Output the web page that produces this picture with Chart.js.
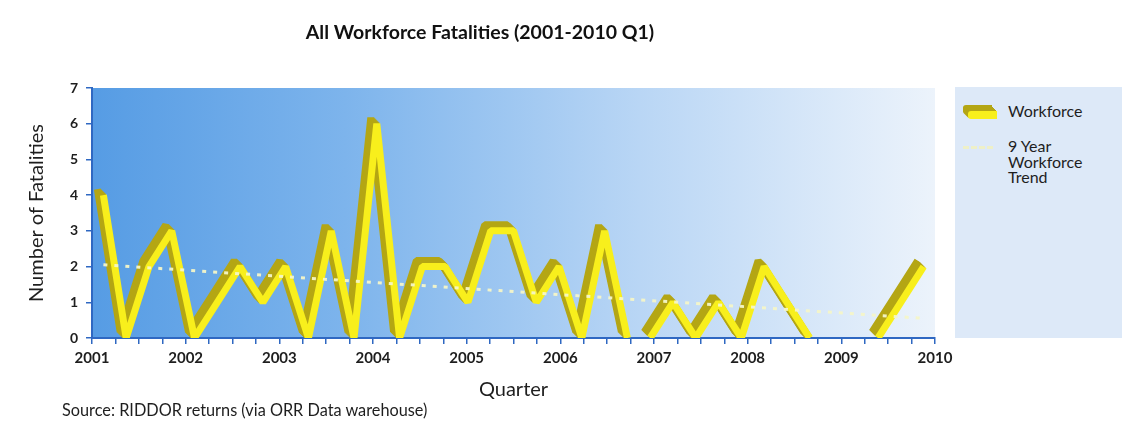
<!DOCTYPE html>
<html>
<head>
<meta charset="utf-8">
<title>All Workforce Fatalities (2001-2010 Q1)</title>
<script src="https://cdn.jsdelivr.net/npm/chart.js@4.4.3/dist/chart.umd.min.js"></script>
<style>
  body { margin:0; background:#fff; font-family:Lato, "Open Sans", sans-serif; color:#1e1e1e; }
  #wrap { position:relative; width:1132px; height:426px; }
  #legend { position:absolute; left:955px; top:87px; width:167px; height:251px; background:#dde9f8; }
  .sw-work { position:absolute; left:968px; top:111px; width:29px; height:8px; background:#f8ef1c;
    border-radius:3px 0 0 3px;
    box-shadow:-1px -1px 0 #b4a614,-2px -2px 0 #b4a614,-3px -3px 0 #b4a614,-4px -4px 0 #b4a614,-5px -5px 0 #b4a614,-5px -6px 0 #b4a614; }
  .sw-trend { position:absolute; left:963px; top:146px; width:30px; border-top:3px dashed #eef0c8; }
  .lg { position:absolute; left:1008px; font-size:16px; line-height:15.5px; }
  #source { position:absolute; left:62px; top:400px; font-size:16.3px; }
</style>
</head>
<body>
<div id="wrap">
  <canvas id="c" width="1132" height="426"></canvas>
  <div id="legend"></div>
  <div class="sw-work"></div>
  <div class="lg" style="top:103px">Workforce</div>
  <div class="sw-trend"></div>
  <div class="lg" style="top:138px">9 Year<br>Workforce<br>Trend</div>
  <div id="source">Source: RIDDOR returns (via ORR Data warehouse)</div>
</div>
<script>
// quarterly fatality counts, 2001 Q1 .. 2010 Q1
const quarters = [
  '2001 Q1','2001 Q2','2001 Q3','2001 Q4','2002 Q1','2002 Q2','2002 Q3','2002 Q4',
  '2003 Q1','2003 Q2','2003 Q3','2003 Q4','2004 Q1','2004 Q2','2004 Q3','2004 Q4',
  '2005 Q1','2005 Q2','2005 Q3','2005 Q4','2006 Q1','2006 Q2','2006 Q3','2006 Q4',
  '2007 Q1','2007 Q2','2007 Q3','2007 Q4','2008 Q1','2008 Q2','2008 Q3','2008 Q4',
  '2009 Q1','2009 Q2','2009 Q3','2009 Q4','2010 Q1'
];
const workforce = [
  4,0,2,3, 0,1,2,1, 2,0,3,0, 6,0,2,2, 1,3,3,1,
  2,0,3,0, 0,1,0,1, 0,2,1,0, 0,0,0,1, 2
];
// 9 year trend, start and end value
const trendStart = 2.05;
const trendEnd = 0.55;
const yearTicks = [2001,2002,2003,2004,2005,2006,2007,2008,2009,2010];
const yTicks = [0,1,2,3,4,5,6,7];

const YELLOW = '#f8ef1c', OLIVE = '#b4a614', AXIS = '#2f68c2';
const DEPTH = 6;

Chart.defaults.font.family = 'Lato, "Open Sans", sans-serif';
Chart.defaults.color = '#1e1e1e';

// hide the stretches that run along the zero line
const hideZeroRun = ctx => (ctx.p0.parsed.y === 0 && ctx.p1.parsed.y === 0) ? 'rgba(0,0,0,0)' : undefined;

// blue gradient behind the plot
const plotBg = {
  id: 'plotBg',
  beforeDraw(chart) {
    const { ctx, chartArea: a } = chart;
    const g = ctx.createLinearGradient(a.left, 0, a.right, 0);
    g.addColorStop(0, '#569ce4');
    g.addColorStop(0.3, '#7db4ec');
    g.addColorStop(0.65, '#b9d6f5');
    g.addColorStop(1, '#ecf3fb');
    ctx.save();
    ctx.fillStyle = g;
    ctx.fillRect(a.left, a.top, a.width, a.height);
    ctx.restore();
  }
};

// side face of the ribbon: the same line swept up-left a few pixels
const ribbon = {
  id: 'ribbon',
  beforeDatasetDraw(chart, args) {
    if (!chart.data.datasets[args.index].extrude) return;
    const { ctx, chartArea: a } = chart;
    ctx.save();
    ctx.beginPath();
    ctx.rect(a.left, a.top, a.width, a.height);
    ctx.clip();
    for (let k = DEPTH; k >= 1; k--) {
      ctx.save();
      ctx.translate(-k, -k);
      args.meta.controller.draw();
      ctx.restore();
    }
    ctx.restore();
    return false;
  }
};

new Chart(document.getElementById('c'), {
  type: 'line',
  data: {
    labels: quarters,
    datasets: [
      {
        label: '9 Year Workforce Trend',
        data: [{ x: quarters[0], y: trendStart }, { x: quarters[quarters.length - 1], y: trendEnd }],
        borderColor: 'rgba(244,245,200,0.95)',
        borderWidth: 3,
        borderDash: [4, 7],
        pointRadius: 0,
        order: 0,
        xAxisID: 'q'
      },
      {
        label: 'Workforce',
        data: workforce,
        borderColor: YELLOW,
        borderWidth: 7,
        borderJoinStyle: 'bevel',
        pointRadius: 0,
        clip: 0,
        segment: { borderColor: hideZeroRun },
        order: 1,
        xAxisID: 'q'
      },
      {
        label: 'Workforce side',
        data: workforce,
        extrude: true,
        borderColor: OLIVE,
        borderWidth: 7,
        borderJoinStyle: 'bevel',
        pointRadius: 0,
        segment: { borderColor: hideZeroRun },
        order: 2,
        xAxisID: 'q'
      }
    ]
  },
  options: {
    responsive: false,
    animation: false,
    events: [],
    layout: { padding: { left: 25, right: 197, top: 0, bottom: 0 } },
    plugins: {
      legend: { display: false },
      tooltip: { enabled: false },
      title: {
        display: true,
        text: 'All Workforce Fatalities (2001-2010 Q1)',
        color: '#111',
        font: { size: 19.5, weight: 'bold' },
        padding: { top: 21, bottom: 43.6 }
      }
    },
    scales: {
      q: { type: 'category', offset: true, display: false },
      yr: {
        type: 'linear',
        position: 'bottom',
        min: 2001,
        max: 2010,
        afterFit: s => { s.height = 88; s.paddingLeft = 0; s.paddingRight = 0; },
        ticks: {
          stepSize: 0.25,
          autoSkip: false,
          maxRotation: 0,
          padding: 5,
          font: { size: 15, weight: 'bold' },
          callback: v => yearTicks.includes(v) ? String(v) : ''
        },
        grid: { drawOnChartArea: false, tickLength: 6, color: AXIS, lineWidth: 1.5 },
        border: { color: AXIS, width: 2 },
        title: { display: true, text: 'Quarter', font: { size: 20 }, padding: { top: 0, bottom: 24 } }
      },
      y: {
        min: 0,
        max: 7,
        afterFit: s => { s.width = 67; s.paddingTop = 0; s.paddingBottom = 0; },
        afterBuildTicks: s => { s.ticks = yTicks.map(v => ({ value: v })); },
        ticks: { padding: 8, font: { size: 14, weight: 'bold' } },
        grid: { drawOnChartArea: false, tickLength: 6, color: AXIS, lineWidth: 1.5 },
        border: { color: AXIS, width: 2 },
        title: { display: true, text: 'Number of Fatalities', font: { size: 20 }, padding: { top: 0, bottom: 0 } }
      }
    }
  },
  plugins: [plotBg, ribbon]
});
</script>
</body>
</html>
